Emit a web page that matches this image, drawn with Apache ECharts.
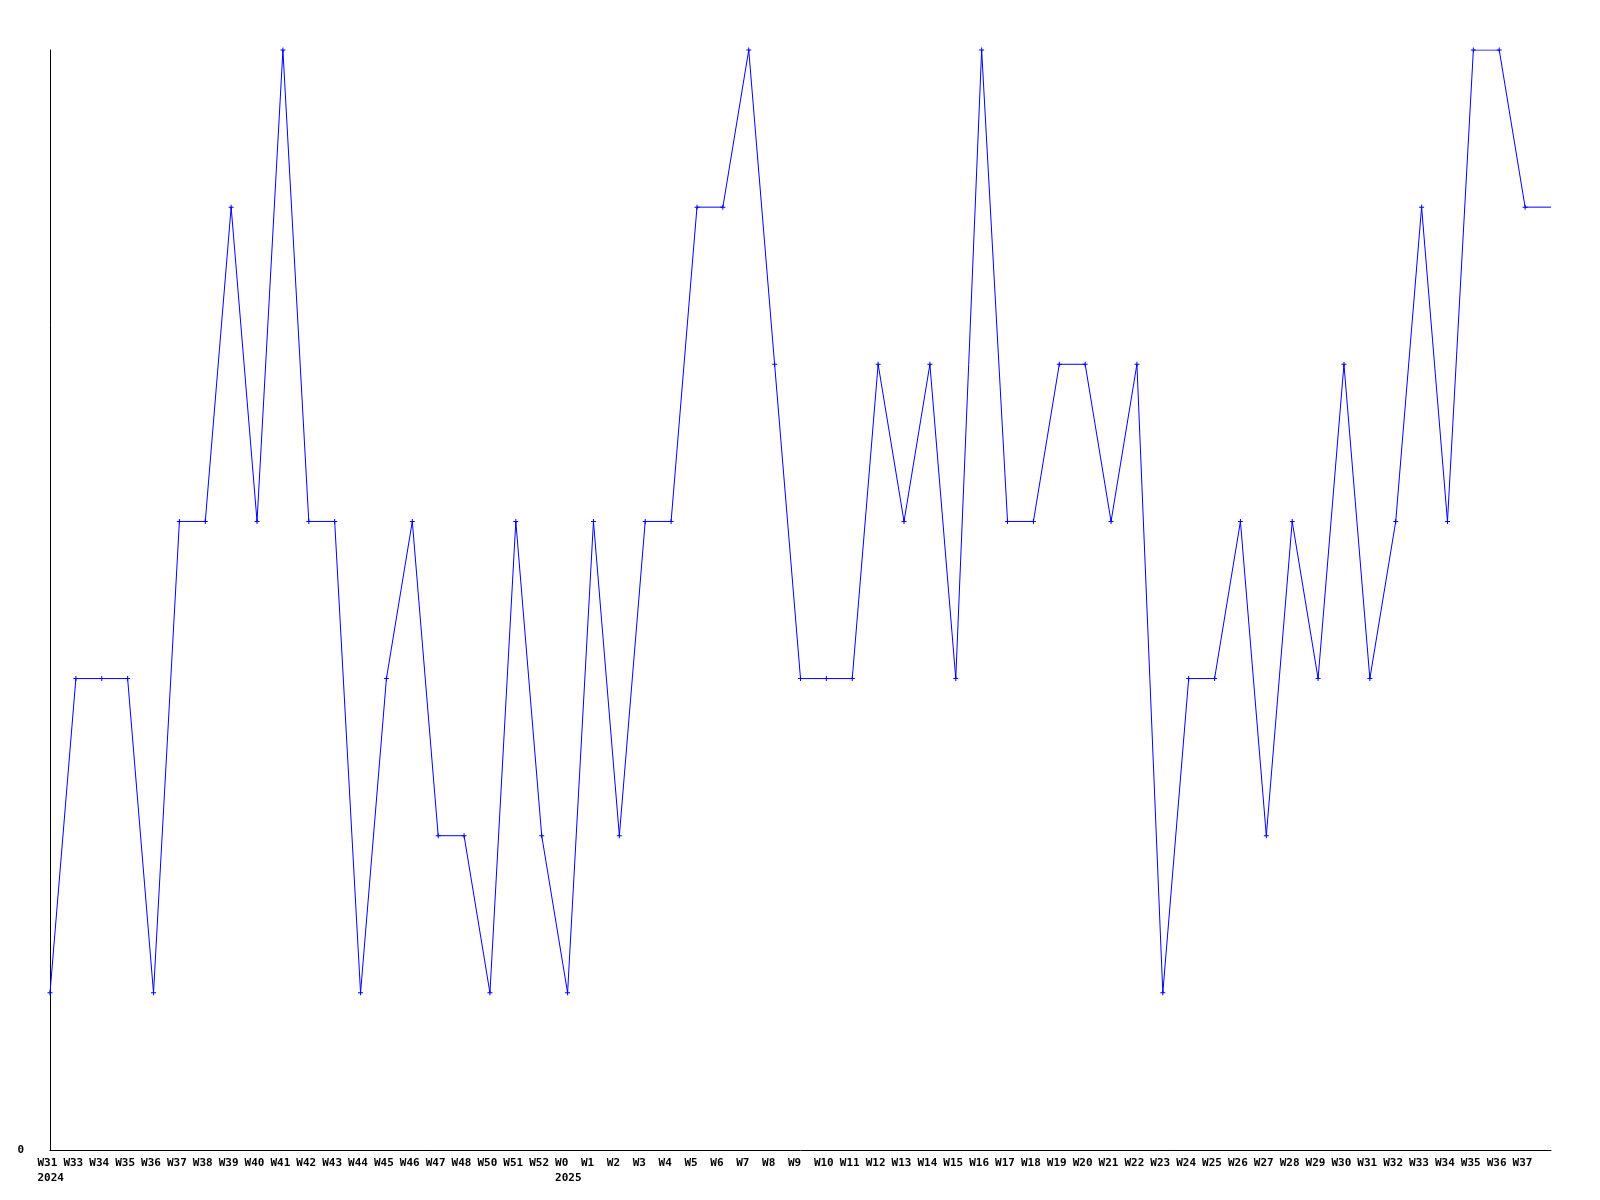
<!DOCTYPE html>
<html>
<head>
<meta charset="utf-8">
<script src="https://cdn.jsdelivr.net/npm/echarts@6/dist/echarts.min.js"></script>
<style>html,body{margin:0;padding:0;background:#fff;}#c{width:1600px;height:1200px;}</style>
</head>
<body>
<div id="c"></div>
<script>
const categories = ['W31','W33','W34','W35','W36','W37','W38','W39','W40','W41','W42','W43','W44','W45','W46','W47','W48','W50','W51','W52',
  'W0','W1','W2','W3','W4','W5','W6','W7','W8','W9','W10','W11','W12','W13','W14','W15','W16','W17','W18','W19','W20',
  'W21','W22','W23','W24','W25','W26','W27','W28','W29','W30','W31','W32','W33','W34','W35','W36','W37',''];
const values = [1,3,3,3,1,4,4,6,4,7,4,4,1,3,4,2,2,1,4,2,
  1,4,2,4,4,6,6,7,5,3,3,3,5,4,5,3,7,4,4,5,5,
  4,5,1,3,3,4,2,4,3,5,3,4,6,4,7,7,6,6];
const yearLabels = {0:'2024', 20:'2025'};
const yTickLabels = ['0'];

const data = values.map((v,i) => i === values.length-1 ? {value:v, symbol:'none'} : v);

const chart = echarts.init(document.getElementById('c'), null, {renderer:'canvas'});
chart.setOption({
  animation:false,
  backgroundColor:'#ffffff',
  grid:{left:50, right:49, top:50, bottom:50},
  xAxis:{
    type:'category', data:categories, boundaryGap:false,
    axisLine:{lineStyle:{color:'#000', width:1}},
    axisTick:{show:false},
    axisLabel:{
      interval:0, hideOverlap:false, margin:6, align:'center',
      formatter:(val, idx) => {
        let s = '{a|' + val + '}';
        if (yearLabels[idx]) s += '\n{a|' + yearLabels[idx] + '}';
        return s;
      },
      rich:{a:{width:25, align:'left', fontFamily:'DejaVu Sans Mono', fontWeight:'bold', fontSize:11, lineHeight:15, color:'#000'}}
    },
    splitLine:{show:false}
  },
  yAxis:{
    type:'value', min:0, max:7, interval:1,
    axisLine:{show:true, lineStyle:{color:'#000', width:1}},
    axisTick:{show:false},
    splitLine:{show:false},
    axisLabel:{margin:26, align:'right', fontFamily:'DejaVu Sans Mono', fontWeight:'bold', fontSize:11, color:'#000',
      formatter:(v) => yTickLabels.indexOf(String(v)) >= 0 ? String(v) : ''}
  },
  series:[{
    type:'line', data:data,
    symbol:'path://M2,0H3V2H5V3H3V5H2V3H0V2H2Z', symbolSize:5,
    lineStyle:{color:'#0000ff', width:1},
    itemStyle:{color:'#0000ff'}
  }]
});
</script>
</body>
</html>
